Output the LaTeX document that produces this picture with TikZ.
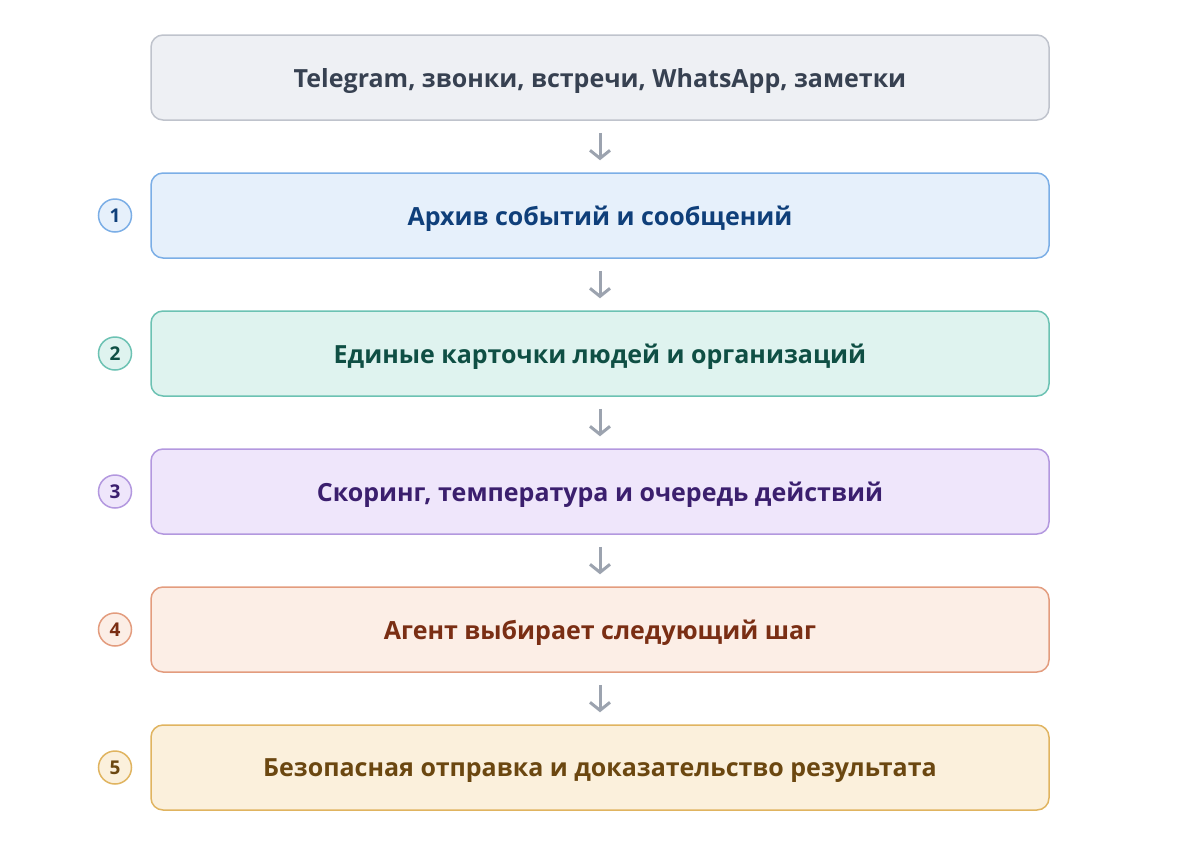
\documentclass[tikz,border=0pt]{standalone}
\usepackage{fontspec}
\setmainfont{Open Sans}
\usetikzlibrary{arrows.meta}

\definecolor{srcfill}{HTML}{EEF0F4}\definecolor{srcline}{HTML}{BFC3CC}\definecolor{srctext}{HTML}{374151}
\definecolor{afill}{HTML}{E6F0FB}\definecolor{aline}{HTML}{7BAEE6}\definecolor{atext}{HTML}{0F3F7A}
\definecolor{bfill}{HTML}{DFF3EF}\definecolor{bline}{HTML}{6CC2B3}\definecolor{btext}{HTML}{0F4F44}
\definecolor{cfill}{HTML}{EFE6FB}\definecolor{cline}{HTML}{B398DF}\definecolor{ctext}{HTML}{3B1F6E}
\definecolor{dfill}{HTML}{FCEEE6}\definecolor{dline}{HTML}{E39C7E}\definecolor{dtext}{HTML}{7A2E14}
\definecolor{efill}{HTML}{FBF0DC}\definecolor{eline}{HTML}{E0B460}\definecolor{etext}{HTML}{6B4710}
\definecolor{arrowgray}{HTML}{9CA3AF}

\begin{document}
\begin{tikzpicture}
[every node/.style={inner sep=0pt},
 layer/.style={rectangle, rounded corners=12pt, minimum width=898pt, minimum height=85pt, line width=1.5pt, text depth=0pt, font=\fontsize{25}{30}\selectfont\bfseries},
 badge/.style={circle, minimum size=33pt, line width=1.5pt, text depth=0pt, font=\fontsize{19}{23}\selectfont\bfseries},
 flow/.style={line width=3pt, color=arrowgray, shorten <=12pt, shorten >=12pt, -{Straight Barb[length=8pt, width=20pt]}}]
\useasboundingbox (0pt, 0pt) rectangle (1200pt, -844pt);
\node (src) [layer, fill=srcfill, draw=srcline] at (600pt, -77.5pt) {\textcolor{srctext}{Telegram, звонки, встречи, WhatsApp, заметки}};
\node (archive) [layer, fill=afill, draw=aline] at (600pt, -215.5pt) {\textcolor{atext}{Архив событий и сообщений}};
\node (cards) [layer, fill=bfill, draw=bline] at (600pt, -353.5pt) {\textcolor{btext}{Единые карточки людей и организаций}};
\node (scoring) [layer, fill=cfill, draw=cline] at (600pt, -491.5pt) {\textcolor{ctext}{Скоринг, температура и очередь действий}};
\node (agent) [layer, fill=dfill, draw=dline] at (600pt, -629.5pt) {\textcolor{dtext}{Агент выбирает следующий шаг}};
\node (send) [layer, fill=efill, draw=eline] at (600pt, -767.5pt) {\textcolor{etext}{Безопасная отправка и доказательство результата}};
\node (n1) [badge, fill=afill, draw=aline] at (115pt, -215.5pt) {\textcolor{atext}{1}};
\node (n2) [badge, fill=bfill, draw=bline] at (115pt, -353.5pt) {\textcolor{btext}{2}};
\node (n3) [badge, fill=cfill, draw=cline] at (115pt, -491.5pt) {\textcolor{ctext}{3}};
\node (n4) [badge, fill=dfill, draw=dline] at (115pt, -629.5pt) {\textcolor{dtext}{4}};
\node (n5) [badge, fill=efill, draw=eline] at (115pt, -767.5pt) {\textcolor{etext}{5}};
\draw [flow] (src) to (archive);
\draw [flow] (archive) to (cards);
\draw [flow] (cards) to (scoring);
\draw [flow] (scoring) to (agent);
\draw [flow] (agent) to (send);
\end{tikzpicture}
\end{document}
